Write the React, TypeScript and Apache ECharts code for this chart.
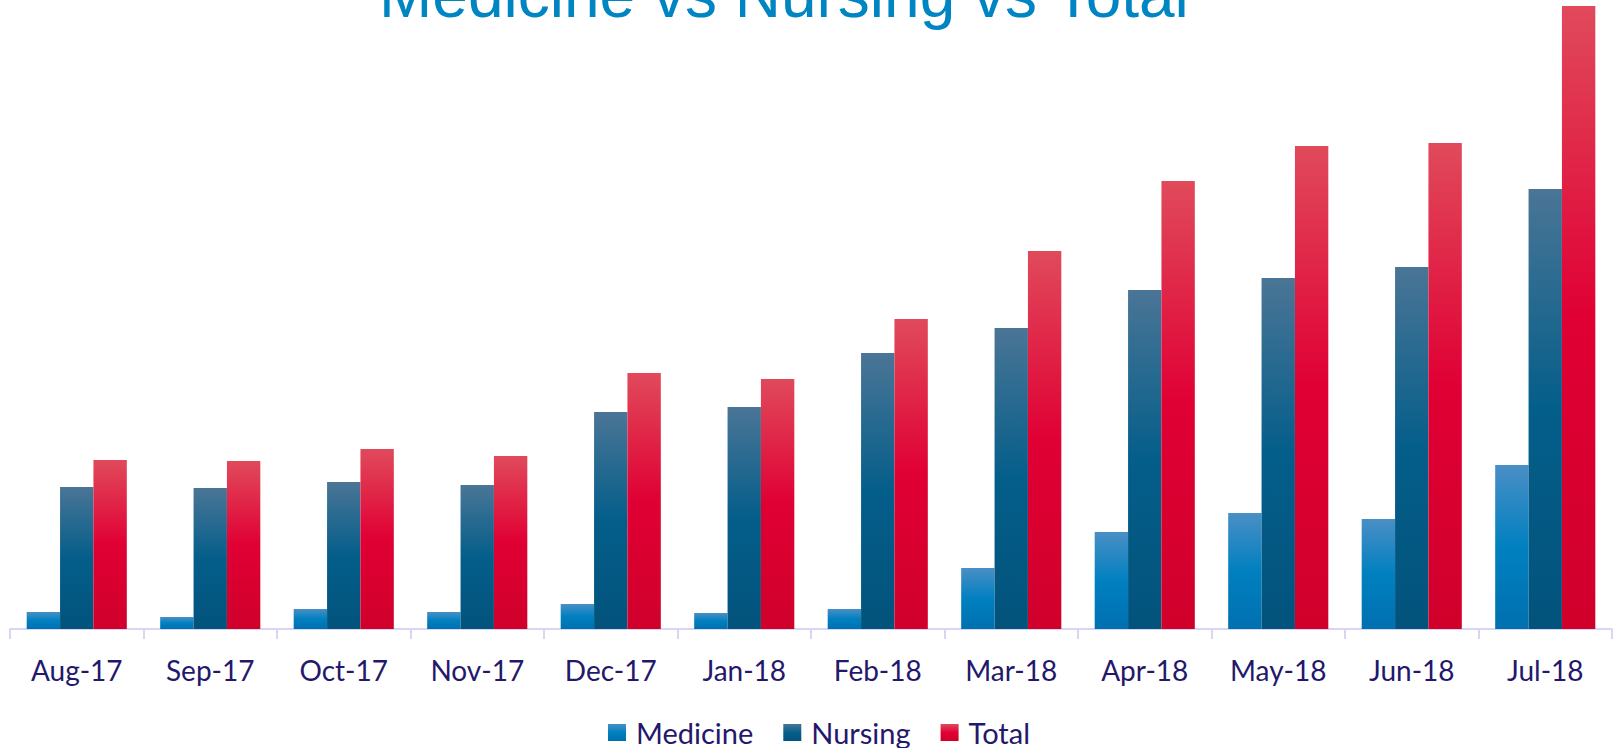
import React, { useEffect, useRef } from "react";
import * as echarts from "echarts";

const categories = ["Aug-17", "Sep-17", "Oct-17", "Nov-17", "Dec-17", "Jan-18", "Feb-18", "Mar-18", "Apr-18", "May-18", "Jun-18", "Jul-18"];
const medicine = [17, 12, 20, 17, 25, 16, 20, 61, 97, 116, 110, 164];
const nursing = [142, 141, 147, 144, 217, 222, 276, 301, 339, 351, 362, 440];
const total = [169, 168, 180, 173, 256, 250, 310, 378, 448, 483, 486, 623];
const seriesNames = ["Medicine", "Nursing", "Total"];
const titleText = "Medicine vs Nursing vs Total";

const grad = (top: string, mid: string, bottom: string) =>
  new echarts.graphic.LinearGradient(0, 0, 0, 1, [
    { offset: 0, color: top },
    { offset: 0.5, color: mid },
    { offset: 1, color: bottom },
  ]);

export default function App() {
  const ref = useRef<HTMLDivElement>(null);
  useEffect(() => {
    if (!ref.current) return;
    const chart = echarts.init(ref.current, null, { renderer: "svg" });
    const labelColor = "#24186B";
    const fills = [
      grad("#4A8FC5", "#0080C0", "#0070B0"),
      grad("#4A7596", "#045E8A", "#02537C"),
      grad("#E04A5B", "#E00034", "#D0002B"),
    ];
    const values = [medicine, nursing, total];
    chart.setOption({
      animation: false,
      backgroundColor: "#FFFFFF",
      title: {
        text: titleText,
        left: 374,
        top: -42,
        textStyle: {
          fontFamily: "Liberation Sans, Arial, sans-serif",
          fontSize: 64,
          fontWeight: "normal",
          color: "#0085C3",
        },
      },
      legend: {
        data: seriesNames,
        left: 603,
        top: 713,
        itemWidth: 18,
        itemHeight: 17,
        itemGap: 30,
        icon: "rect",
        textStyle: {
          fontFamily: "Lato, sans-serif",
          fontSize: 29,
          color: labelColor,
          padding: [0, 0, 0, 5],
        },
      },
      grid: { left: 10, right: 3, top: 0, bottom: 119, containLabel: false },
      xAxis: {
        type: "category",
        data: categories,
        axisLine: { lineStyle: { color: "#DAD5F4", width: 2 } },
        axisTick: { show: true, length: 10, lineStyle: { color: "#DAD5F4", width: 2 } },
        axisLabel: {
          interval: 0,
          margin: 27,
          fontFamily: "Lato, sans-serif",
          fontSize: 28,
          color: labelColor,
        },
      },
      yAxis: { type: "value", min: 0, max: 629, show: false, splitLine: { show: false } },
      series: seriesNames.map((name, i) => ({
        name,
        type: "bar",
        data: values[i],
        barGap: "0%",
        barCategoryGap: "25%",
        itemStyle: { color: fills[i] },
      })),
    });
    return () => chart.dispose();
  }, []);
  return <div ref={ref} style={{ position: "fixed", left: 0, top: 0, width: 1615, height: 748 }} />;
}
